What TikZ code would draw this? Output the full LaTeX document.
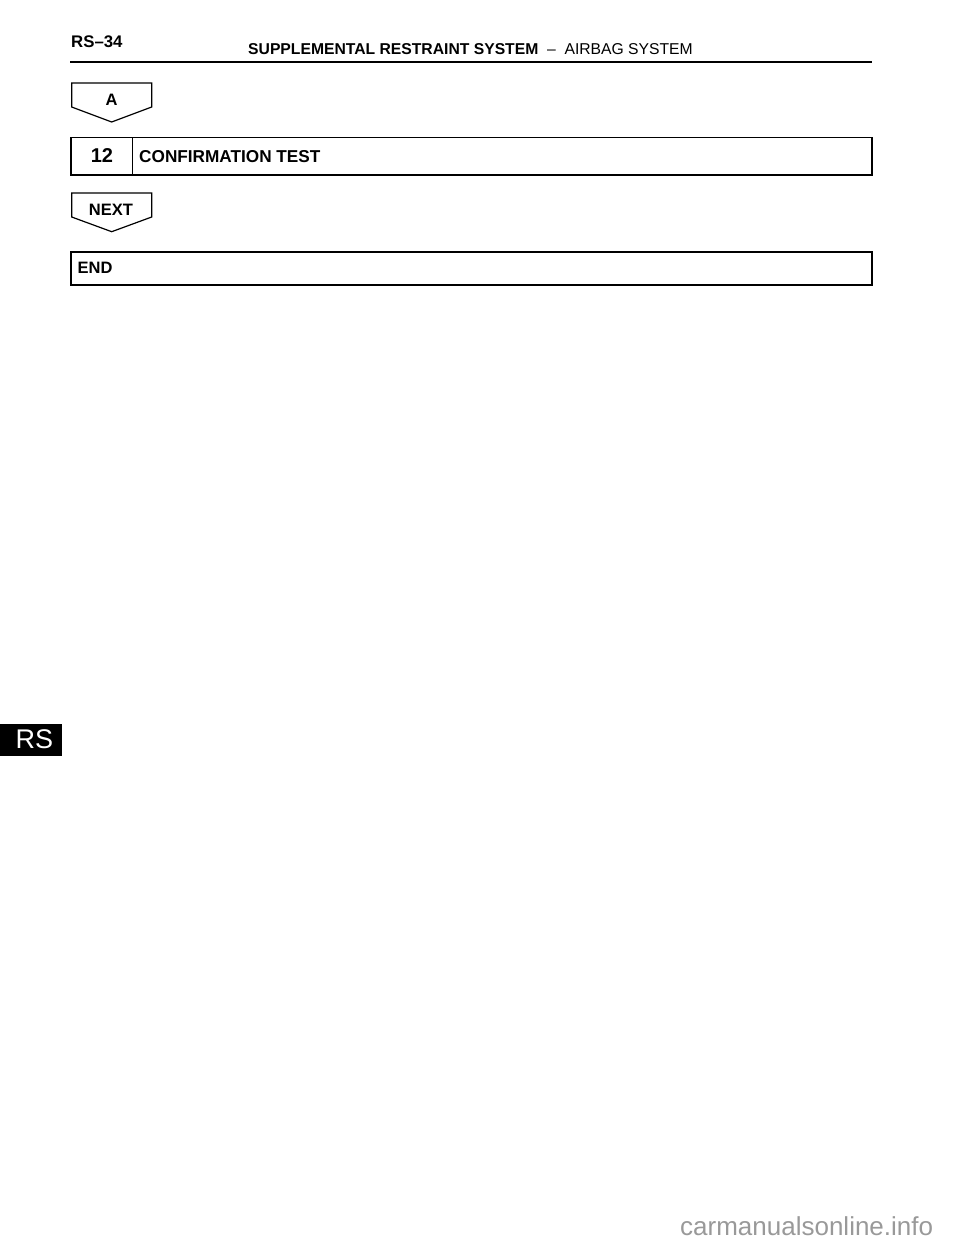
\documentclass[tikz,border=0pt]{standalone}
\usepackage{fontspec}
\setmainfont{Liberation Sans}
\usetikzlibrary{positioning}

\begin{document}
\begin{tikzpicture}[x=1pt,y=-1pt,
    flag/.style={draw, line width=1.2pt, line join=miter},
    stepbox/.style={draw, line width=1.6pt},
    boldtext/.style={font=\bfseries\fontsize{16.5}{18}\selectfont, inner sep=0pt},
    tab/.style={fill=black, draw=none}
    ]
    \useasboundingbox (0,0) rectangle (960,1242);

    % page header
    \node[boldtext, anchor=base west, font=\bfseries\fontsize{16.8}{18}\selectfont] (page) at (71,47) {RS--34};
    \node[anchor=base west, inner sep=0pt, font=\fontsize{15.7}{17}\selectfont] (title) at (248,54.3)
      {\textbf{SUPPLEMENTAL RESTRAINT SYSTEM}\ \ --\ \ AIRBAG SYSTEM};
    \draw[line width=2pt] (70,62) coordinate (rulel) -- (872,62) coordinate (ruler);

    % flag A
    \draw[flag] (71.7,83) -- (151.7,83) -- (151.7,107) -- (111.7,122) -- (71.7,107) -- cycle;
    \node[boldtext, anchor=base] (a) at (111.7,105) {A};

    % step 12
    \draw[stepbox] (71,137.3) rectangle (871.7,175);
    \draw[line width=1pt] (132.7,137.3) -- (132.7,175);
    \node[anchor=base, inner sep=0pt, font=\bfseries\fontsize{20}{22}\selectfont] (num) at (102,162) {12};
    \node[boldtext, anchor=base west, font=\bfseries\fontsize{17.2}{19}\selectfont] (step) at (139,162) {CONFIRMATION TEST};

    % flag NEXT
    \draw[flag] (71.7,193) -- (151.7,193) -- (151.7,217) -- (111.7,231.7) -- (71.7,217) -- cycle;
    \node[boldtext, anchor=base] (next) at (111,215) {NEXT};

    % end box
    \draw[stepbox] (71,251.7) rectangle (871.7,285);
    \node[boldtext, anchor=base west] (end) at (77.5,273.3) {END};

    % side tab
    \fill[tab] (0,724) rectangle (62,755.5);
    \node[anchor=base west, inner sep=0pt, text=white, font=\fontsize{27}{30}\selectfont] (rs) at (15.5,748.3) {RS};

    % watermark
    \node[anchor=base west, inner sep=0pt, text=black!40, font=\fontsize{26}{28}\selectfont] (mark) at (680,1235) {carmanualsonline.info};
\end{tikzpicture}
\end{document}
